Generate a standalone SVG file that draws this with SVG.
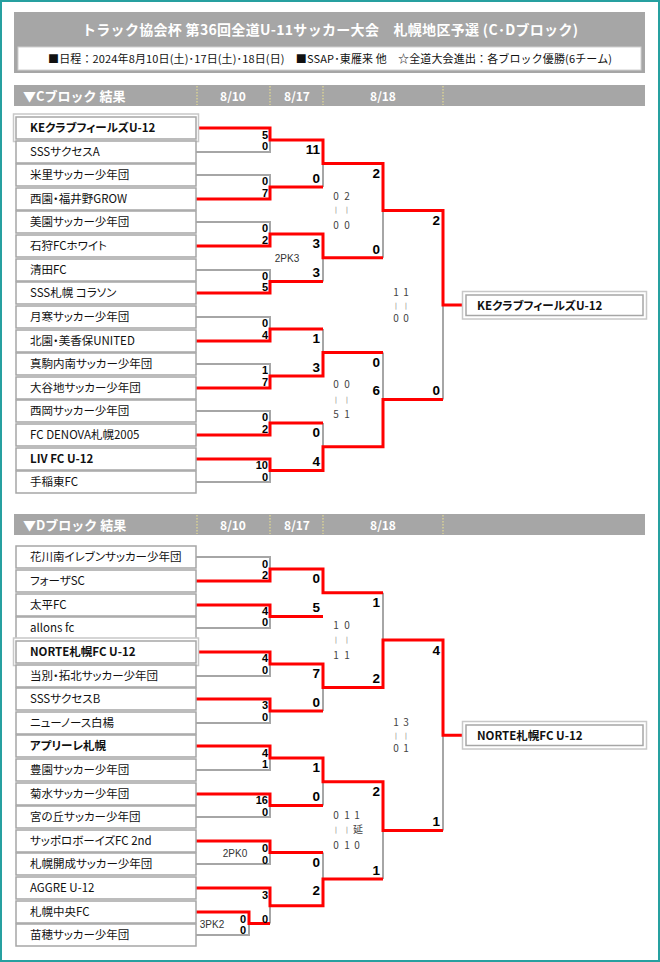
<svg xmlns="http://www.w3.org/2000/svg" width="660" height="962" viewBox="0 0 660 962">
<defs>
<style>
.bg{fill:#fff}
.frame{fill:none;stroke:#26a0a0;stroke-width:2}
.hbar{fill:#a6a6a6}
.ht{font-family:"Noto Sans CJK JP",sans-serif;font-weight:bold;fill:#fff}
.sep{stroke:#f0e68c;stroke-width:1;stroke-dasharray:1.5,1.5}
.tb{fill:#fff;stroke:#a6a6a6;stroke-width:1.5}
.tbo{fill:#fff;stroke:#c8c8c8;stroke-width:1.5}
.tn{font-family:"Noto Sans CJK JP",sans-serif;font-size:11.5px;fill:#111;font-feature-settings:"palt"}
.b{font-weight:bold}
.g{fill:none;stroke:#a6a6a6;stroke-width:2}
.r{fill:none;stroke:#ff0000;stroke-width:3}
.s1{font-family:"Liberation Sans",Arial,sans-serif;font-weight:bold;font-size:11px;fill:#000;text-anchor:end}
.s2{font-family:"Liberation Sans",Arial,sans-serif;font-weight:bold;font-size:13.5px;fill:#000;text-anchor:end}
.pk{font-family:"Liberation Sans",Arial,sans-serif;font-size:10px;fill:#333}
.nt{font-family:"Noto Sans CJK JP",sans-serif;font-size:10px;fill:#444;text-anchor:middle}
.tk{font-family:"DejaVu Sans",sans-serif;font-size:7px;fill:#888;text-anchor:middle}
</style>
</defs>
<rect class="bg" x="0" y="0" width="660" height="962"/>
<rect class="frame" x="1" y="1" width="658" height="960"/>

<g id="header">
<rect class="hbar" x="14" y="12" width="631" height="61"/>
<text class="ht" x="330" y="35" font-size="14" text-anchor="middle" textLength="496" xml:space="preserve">トラック協会杯 第36回全道U-11サッカー大会　札幌地区予選 (C･Dブロック)</text>
<rect x="18" y="47" width="623" height="23" fill="#fff" stroke="#d0d0d0" stroke-width="1"/>
<text x="330" y="63" font-family="Noto Sans CJK JP,sans-serif" font-size="11" fill="#111" text-anchor="middle" textLength="564">■日程：2024年8月10日(土)･17日(土)･18日(日)　■SSAP･東雁来 他　☆全道大会進出：各ブロック優勝(6チーム)</text>
</g>

<g id="c-bar">
<rect class="hbar" x="14" y="85" width="631" height="21"/>
<text class="ht" x="23" y="100.5" font-size="13">▼Cブロック 結果</text>
<line class="sep" x1="197" y1="86" x2="197" y2="105"/>
<line class="sep" x1="270" y1="86" x2="270" y2="105"/>
<line class="sep" x1="323" y1="86" x2="323" y2="105"/>
<line class="sep" x1="443" y1="86" x2="443" y2="105"/>
<text class="ht" x="233" y="100.5" font-size="12" text-anchor="middle">8/10</text>
<text class="ht" x="297" y="100.5" font-size="12" text-anchor="middle">8/17</text>
<text class="ht" x="383" y="100.5" font-size="12" text-anchor="middle">8/18</text>
</g>

<g id="d-bar">
<rect class="hbar" x="14" y="514" width="631" height="21"/>
<text class="ht" x="23" y="529.5" font-size="13">▼Dブロック 結果</text>
<line class="sep" x1="197" y1="515" x2="197" y2="534"/>
<line class="sep" x1="270" y1="515" x2="270" y2="534"/>
<line class="sep" x1="323" y1="515" x2="323" y2="534"/>
<line class="sep" x1="443" y1="515" x2="443" y2="534"/>
<text class="ht" x="233" y="529.5" font-size="12" text-anchor="middle">8/10</text>
<text class="ht" x="297" y="529.5" font-size="12" text-anchor="middle">8/17</text>
<text class="ht" x="383" y="529.5" font-size="12" text-anchor="middle">8/18</text>
</g>

<g id="connectors">
<path class="g" d="M196 152H270V140M196 175H270V187M196 222H270V234M196 270H270V281.5M196 317H270V329M196 364H270V376M196 411H270V423M196 482H270V470.5"/>
<path class="g" d="M323 163.5V187M323 257.75V281.5M323 329V352.5M323 423V446.75M383 210.6V257.75M383 352.5V399.6M443 305V399.6"/>
<path class="r" d="M196 128H270V140H323V163.5H383V210.6H443V305H463"/>
<path class="r" d="M196 199H270V187H323"/>
<path class="r" d="M196 246H270V234H323V257.75H383"/>
<path class="r" d="M196 293H270V281.5H323"/>
<path class="r" d="M196 341H270V329H323"/>
<path class="r" d="M196 388H270V376H323V352.5H383"/>
<path class="r" d="M196 435H270V423H323"/>
<path class="r" d="M196 459H270V470.5H323V446.75H383V399.6H443"/>
<path class="g" d="M196 557H270V569M196 628H270V616.5M196 676H270V664M196 723H270V711M196 770H270V758M196 817H270V805.5M196 864H270V852.5M196 935H249V923.5M270 923.5V905.75"/>
<path class="g" d="M323 569V592.75M323 687.5V711M323 781.75V805.5M323 852.5V879.1M383 592.75V640.1M383 830.4V879.1M443 735.3V830.4"/>
<path class="r" d="M196 581H270V569H323V592.75H383"/>
<path class="r" d="M196 605H270V616.5H323"/>
<path class="r" d="M196 652H270V664H323V687.5H383V640.1H443V735.3H463"/>
<path class="r" d="M196 699H270V711H323"/>
<path class="r" d="M196 746H270V758H323V781.75H383V830.4H443"/>
<path class="r" d="M196 794H270V805.5H323"/>
<path class="r" d="M196 841H270V852.5H323"/>
<path class="r" d="M196 912H249V923.5H270"/>
<path class="r" d="M196 888H270V905.75H323V879.1H383"/>
</g>

<g id="c01"><rect class="tbo" x="13.5" y="114" width="185" height="27.5"/><rect class="tb" x="16" y="117" width="180" height="22"/><text class="tn b" x="30" y="132">KEクラブフィールズU-12</text></g>
<g id="c02"><rect class="tb" x="16" y="141" width="180" height="22"/><text class="tn" x="30" y="156">SSSサクセスA</text></g>
<g id="c03"><rect class="tb" x="16" y="164" width="180" height="22"/><text class="tn" x="30" y="179">米里サッカー少年団</text></g>
<g id="c04"><rect class="tb" x="16" y="188" width="180" height="22"/><text class="tn" x="30" y="203">西園・福井野GROW</text></g>
<g id="c05"><rect class="tb" x="16" y="211" width="180" height="22"/><text class="tn" x="30" y="226">美園サッカー少年団</text></g>
<g id="c06"><rect class="tb" x="16" y="235" width="180" height="22"/><text class="tn" x="30" y="250">石狩FCホワイト</text></g>
<g id="c07"><rect class="tb" x="16" y="259" width="180" height="22"/><text class="tn" x="30" y="274">清田FC</text></g>
<g id="c08"><rect class="tb" x="16" y="282" width="180" height="22"/><text class="tn" x="30" y="297">SSS札幌 コラソン</text></g>
<g id="c09"><rect class="tb" x="16" y="306" width="180" height="22"/><text class="tn" x="30" y="321">月寒サッカー少年団</text></g>
<g id="c10"><rect class="tb" x="16" y="330" width="180" height="22"/><text class="tn" x="30" y="345">北園・美香保UNITED</text></g>
<g id="c11"><rect class="tb" x="16" y="353" width="180" height="22"/><text class="tn" x="30" y="368">真駒内南サッカー少年団</text></g>
<g id="c12"><rect class="tb" x="16" y="377" width="180" height="22"/><text class="tn" x="30" y="392">大谷地サッカー少年団</text></g>
<g id="c13"><rect class="tb" x="16" y="400" width="180" height="22"/><text class="tn" x="30" y="415">西岡サッカー少年団</text></g>
<g id="c14"><rect class="tb" x="16" y="424" width="180" height="22"/><text class="tn" x="30" y="439">FC DENOVA札幌2005</text></g>
<g id="c15"><rect class="tb" x="16" y="448" width="180" height="22"/><text class="tn b" x="30" y="463">LIV FC U-12</text></g>
<g id="c16"><rect class="tb" x="16" y="471" width="180" height="22"/><text class="tn" x="30" y="486">手稲東FC</text></g>
<g id="c-champion"><rect class="tbo" x="462.5" y="291.5" width="184" height="27.5"/><rect class="tb" x="466" y="295" width="177" height="20.5"/><text class="tn b" x="477" y="309.5">KEクラブフィールズU-12</text></g>

<g id="d01"><rect class="tb" x="16" y="546" width="180" height="22"/><text class="tn" x="30" y="561">花川南イレブンサッカー少年団</text></g>
<g id="d02"><rect class="tb" x="16" y="570" width="180" height="22"/><text class="tn" x="30" y="585">フォーザSC</text></g>
<g id="d03"><rect class="tb" x="16" y="594" width="180" height="22"/><text class="tn" x="30" y="609">太平FC</text></g>
<g id="d04"><rect class="tb" x="16" y="617" width="180" height="22"/><text class="tn" x="30" y="632">allons fc</text></g>
<g id="d05"><rect class="tbo" x="13.5" y="638" width="185" height="27.5"/><rect class="tb" x="16" y="641" width="180" height="22"/><text class="tn b" x="30" y="656">NORTE札幌FC U-12</text></g>
<g id="d06"><rect class="tb" x="16" y="665" width="180" height="22"/><text class="tn" x="30" y="680">当別・拓北サッカー少年団</text></g>
<g id="d07"><rect class="tb" x="16" y="688" width="180" height="22"/><text class="tn" x="30" y="703">SSSサクセスB</text></g>
<g id="d08"><rect class="tb" x="16" y="712" width="180" height="22"/><text class="tn" x="30" y="727">ニューノース白楊</text></g>
<g id="d09"><rect class="tb" x="16" y="735" width="180" height="22"/><text class="tn b" x="30" y="750">アプリーレ札幌</text></g>
<g id="d10"><rect class="tb" x="16" y="759" width="180" height="22"/><text class="tn" x="30" y="774">豊園サッカー少年団</text></g>
<g id="d11"><rect class="tb" x="16" y="783" width="180" height="22"/><text class="tn" x="30" y="798">菊水サッカー少年団</text></g>
<g id="d12"><rect class="tb" x="16" y="806" width="180" height="22"/><text class="tn" x="30" y="821">宮の丘サッカー少年団</text></g>
<g id="d13"><rect class="tb" x="16" y="830" width="180" height="22"/><text class="tn" x="30" y="845">サッポロボーイズFC 2nd</text></g>
<g id="d14"><rect class="tb" x="16" y="853" width="180" height="22"/><text class="tn" x="30" y="868">札幌開成サッカー少年団</text></g>
<g id="d15"><rect class="tb" x="16" y="877" width="180" height="22"/><text class="tn" x="30" y="892">AGGRE U-12</text></g>
<g id="d16"><rect class="tb" x="16" y="901" width="180" height="22"/><text class="tn" x="30" y="916">札幌中央FC</text></g>
<g id="d17"><rect class="tb" x="16" y="924" width="180" height="22"/><text class="tn" x="30" y="939">苗穂サッカー少年団</text></g>
<g id="d-champion"><rect class="tbo" x="462.5" y="721.5" width="184" height="27.5"/><rect class="tb" x="466" y="725" width="177" height="20.5"/><text class="tn b" x="477" y="739.5">NORTE札幌FC U-12</text></g>

<g id="c-scores">
<text class="s1" x="268" y="138.5">5</text><text class="s1" x="268" y="150">0</text>
<text class="s1" x="268" y="185">0</text><text class="s1" x="268" y="196.5">7</text>
<text class="s1" x="268" y="232">0</text><text class="s1" x="268" y="243.5">2</text>
<text class="s1" x="268" y="279.5">0</text><text class="s1" x="268" y="291">5</text>
<text class="s1" x="268" y="327">0</text><text class="s1" x="268" y="338.5">4</text>
<text class="s1" x="268" y="374">1</text><text class="s1" x="268" y="385.5">7</text>
<text class="s1" x="268" y="421">0</text><text class="s1" x="268" y="432.5">2</text>
<text class="s1" x="268" y="469">10</text><text class="s1" x="268" y="480.5">0</text>
<text class="s2" x="320" y="153.5">11</text><text class="s2" x="320" y="182.5">0</text>
<text class="s2" x="320" y="248">3</text><text class="s2" x="320" y="277">3</text>
<text class="s2" x="320" y="343">1</text><text class="s2" x="320" y="371.5">3</text>
<text class="s2" x="320" y="437">0</text><text class="s2" x="320" y="466">4</text>
<text class="s2" x="380" y="178">2</text><text class="s2" x="380" y="253.5">0</text>
<text class="s2" x="380" y="366.5">0</text><text class="s2" x="380" y="395">6</text>
<text class="s2" x="440" y="225">2</text><text class="s2" x="440" y="395">0</text>
<text class="pk" x="287" y="261.5" text-anchor="middle">2PK3</text>
</g>

<g id="c-notes">
<text class="nt" x="336" y="199.5">0</text><text class="nt" x="347" y="199.5">2</text>
<text class="tk" x="336" y="212">|</text><text class="tk" x="347" y="212">|</text>
<text class="nt" x="336" y="229">0</text><text class="nt" x="347" y="229">0</text>
<text class="nt" x="396" y="296">1</text><text class="nt" x="406" y="296">1</text>
<text class="tk" x="396" y="308">|</text><text class="tk" x="406" y="308">|</text>
<text class="nt" x="396" y="321.5">0</text><text class="nt" x="406" y="321.5">0</text>
<text class="nt" x="336" y="388">0</text><text class="nt" x="347" y="388">0</text>
<text class="tk" x="336" y="401.5">|</text><text class="tk" x="347" y="401.5">|</text>
<text class="nt" x="336" y="418">5</text><text class="nt" x="347" y="418">1</text>
</g>

<g id="d-scores">
<text class="s1" x="268" y="567.5">0</text><text class="s1" x="268" y="579">2</text>
<text class="s1" x="268" y="615">4</text><text class="s1" x="268" y="626">0</text>
<text class="s1" x="268" y="662">4</text><text class="s1" x="268" y="673.5">0</text>
<text class="s1" x="268" y="709">3</text><text class="s1" x="268" y="721">0</text>
<text class="s1" x="268" y="756.5">4</text><text class="s1" x="268" y="768">1</text>
<text class="s1" x="268" y="804">16</text><text class="s1" x="268" y="815.5">0</text>
<text class="s1" x="268" y="852">0</text><text class="s1" x="268" y="863.5">0</text>
<text class="s1" x="268" y="899">3</text><text class="s1" x="268" y="923">0</text>
<text class="s1" x="246" y="922.5">0</text><text class="s1" x="246" y="934">0</text>
<text class="pk" x="235" y="857" text-anchor="middle">2PK0</text>
<text class="pk" x="212" y="928" text-anchor="middle">3PK2</text>
<text class="s2" x="320" y="582.5">0</text><text class="s2" x="320" y="612">5</text>
<text class="s2" x="320" y="678">7</text><text class="s2" x="320" y="706.5">0</text>
<text class="s2" x="320" y="772">1</text><text class="s2" x="320" y="801">0</text>
<text class="s2" x="320" y="866.5">0</text><text class="s2" x="320" y="895">2</text>
<text class="s2" x="380" y="607">1</text><text class="s2" x="380" y="683">2</text>
<text class="s2" x="380" y="796">2</text><text class="s2" x="380" y="874.5">1</text>
<text class="s2" x="440" y="655">4</text><text class="s2" x="440" y="826">1</text>
</g>

<g id="d-notes">
<text class="nt" x="336" y="628.5">1</text><text class="nt" x="347" y="628.5">0</text>
<text class="tk" x="336" y="642">|</text><text class="tk" x="347" y="642">|</text>
<text class="nt" x="336" y="658.5">1</text><text class="nt" x="347" y="658.5">1</text>
<text class="nt" x="396" y="726">1</text><text class="nt" x="406" y="726">3</text>
<text class="tk" x="396" y="738">|</text><text class="tk" x="406" y="738">|</text>
<text class="nt" x="396" y="751.5">0</text><text class="nt" x="406" y="751.5">1</text>
<text class="nt" x="336" y="818.5">0</text><text class="nt" x="347" y="818.5">1</text><text class="nt" x="357" y="818.5">1</text>
<text class="tk" x="336" y="832">|</text><text class="tk" x="347" y="832">|</text><text class="nt" x="358" y="832.5">延</text>
<text class="nt" x="336" y="848.5">0</text><text class="nt" x="347" y="848.5">1</text><text class="nt" x="357" y="848.5">0</text>
</g>
</svg>
